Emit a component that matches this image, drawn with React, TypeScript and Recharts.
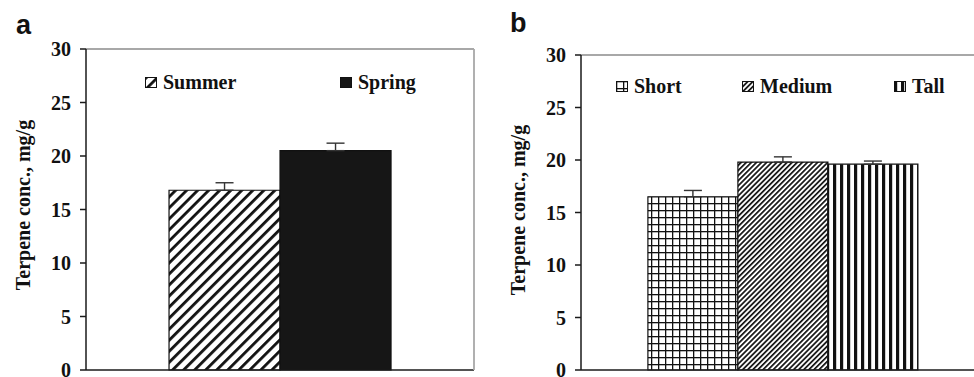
import React from 'react';
import { BarChart, Bar, XAxis, YAxis, ErrorBar, Legend } from 'recharts';

// panel a: season
const seasonNames = ['Summer', 'Spring'];
const seasonMeans = [16.8, 20.5];
const seasonErrors = [0.7, 0.7];

// panel b: plant height
const heightNames = ['Short', 'Medium', 'Tall'];
const heightMeans = [16.5, 19.8, 19.6];
const heightErrors = [0.6, 0.5, 0.3];

const yTicks = [0, 5, 10, 15, 20, 25, 30];
const yLabel = 'Terpene conc., mg/g';

const serif = '"Liberation Serif", "Times New Roman", serif';
const tickStyle = { fontFamily: serif, fontWeight: 700, fontSize: 20, fill: '#111', dx: -7 };

const seasonFills = ['url(#hatchWide)', '#161616'];
const heightFills = ['url(#grid)', 'url(#hatchFine)', 'url(#vstripes)'];

function buildRow(names: string[], means: number[], errors: number[]) {
  const row: Record<string, any> = { name: 'all' };
  names.forEach((n, i) => {
    row[n] = means[i];
    row[n + 'Err'] = [0, errors[i]];
  });
  return row;
}

const seasonData = [buildRow(seasonNames, seasonMeans, seasonErrors)];
const heightData = [buildRow(heightNames, heightMeans, heightErrors)];

function Patterns() {
  return (
    <defs>
      <pattern id="hatchWide" width="7.8" height="7.8" patternUnits="userSpaceOnUse" patternTransform="rotate(45)">
        <rect width="7.8" height="7.8" fill="#fff" />
        <rect x="0" y="0" width="2.8" height="7.8" fill="#111" />
      </pattern>
      <pattern id="hatchFine" width="3.6" height="3.6" patternUnits="userSpaceOnUse" patternTransform="rotate(45)">
        <rect width="3.6" height="3.6" fill="#fff" />
        <rect x="0" y="0" width="1.7" height="3.6" fill="#111" />
      </pattern>
      <pattern id="grid" width="7" height="7" patternUnits="userSpaceOnUse">
        <rect width="7" height="7" fill="#fff" />
        <rect x="0" y="0" width="7" height="1.3" fill="#111" />
        <rect x="0" y="0" width="1.3" height="7" fill="#111" />
      </pattern>
      <pattern id="vstripes" width="7" height="7" patternUnits="userSpaceOnUse">
        <rect width="7" height="7" fill="#fff" />
        <rect x="0" y="0" width="3.2" height="7" fill="#111" />
      </pattern>
    </defs>
  );
}

function LegendBox({ names, fills, slots }: { names: string[]; fills: string[]; slots: number[] }) {
  return (
    <div style={{ position: 'relative', height: 22 }}>
      {names.map((n, i) => (
        <div key={n} style={{ position: 'absolute', left: slots[i], top: 0, display: 'flex', alignItems: 'center', whiteSpace: 'nowrap' }}>
          <svg width={12} height={11} style={{ marginRight: 6 }}>
            <rect x={0.5} y={0.5} width={11} height={10} fill={fills[i]} stroke="#111" strokeWidth={1} />
          </svg>
          <span style={{ fontFamily: serif, fontWeight: 700, fontSize: 20, lineHeight: '22px', color: '#111' }}>{n}</span>
        </div>
      ))}
    </div>
  );
}

function Panel({
  data, names, fills, width, axisWidth, top, gap, legendLeft, legendTop, slots,
}: {
  data: any[]; names: string[]; fills: string[]; width: number; axisWidth: number; top: number;
  gap: string; legendLeft: number; legendTop: number; slots: number[];
}) {
  const dark = { stroke: '#1a1a1a', strokeWidth: 1.5 };
  const grey = { stroke: '#a8a8a8', strokeWidth: 1.8 };
  return (
    <BarChart width={width} height={395} data={data} margin={{ top, right: 5, bottom: 0, left: 0 }} barCategoryGap={gap} barGap={0}>
      <Patterns />
      <XAxis dataKey="name" tick={false} tickLine={false} height={25} axisLine={dark} />
      <XAxis xAxisId="top" orientation="top" dataKey="name" height={1} tick={false} tickLine={false} axisLine={grey} />
      <YAxis domain={[0, 30]} ticks={yTicks} width={axisWidth} tick={tickStyle} axisLine={dark} tickLine={dark} />
      <YAxis yAxisId="right" orientation="right" width={1} domain={[0, 30]} tick={false} tickLine={false} axisLine={grey} />
      <Legend layout="horizontal" verticalAlign="middle" align="center"
        wrapperStyle={{ top: legendTop, left: legendLeft, width: 420 }}
        content={() => <LegendBox names={names} fills={fills} slots={slots} />} />
      {names.map((n, i) => (
        <Bar key={n} dataKey={n} name={n} fill={fills[i]} stroke="#111" strokeWidth={1.2} isAnimationActive={false}>
          <ErrorBar dataKey={n + 'Err'} width={9} stroke="#333" strokeWidth={1.4} direction="y" />
        </Bar>
      ))}
    </BarChart>
  );
}

const panelLetter: React.CSSProperties = {
  position: 'absolute', fontFamily: '"Liberation Sans", Arial, sans-serif', fontWeight: 700, fontSize: 27, lineHeight: '27px', color: '#111',
};

function AxisTitle({ cx, cy }: { cx: number; cy: number }) {
  return (
    <div style={{
      position: 'absolute', left: cx, top: cy, transform: 'translate(-50%, -50%) rotate(-90deg)', whiteSpace: 'nowrap',
      fontFamily: serif, fontWeight: 700, fontSize: 20, lineHeight: '20px', color: '#111',
    }}>{yLabel}</div>
  );
}

export default function App() {
  return (
    <div style={{ position: 'fixed', left: 0, top: 0, width: 974, height: 377, overflow: 'hidden', background: '#fff' }}>
      <div style={{ position: 'absolute', left: 0, top: 0 }}>
        <Panel data={seasonData} names={seasonNames} fills={seasonFills} width={480} axisWidth={86} top={48}
          gap="21.4%" legendLeft={145} legendTop={71} slots={[0, 195]} />
      </div>
      <div style={{ position: 'absolute', left: 490, top: 0 }}>
        <Panel data={heightData} names={heightNames} fills={heightFills} width={500} axisWidth={91} top={54}
          gap="16.6%" legendLeft={126} legendTop={75} slots={[0, 126, 278]} />
      </div>
      <AxisTitle cx={23} cy={205} />
      <AxisTitle cx={518} cy={210} />
      <div style={{ ...panelLetter, left: 16, top: 12 }}>a</div>
      <div style={{ ...panelLetter, left: 510, top: 10 }}>b</div>
    </div>
  );
}
